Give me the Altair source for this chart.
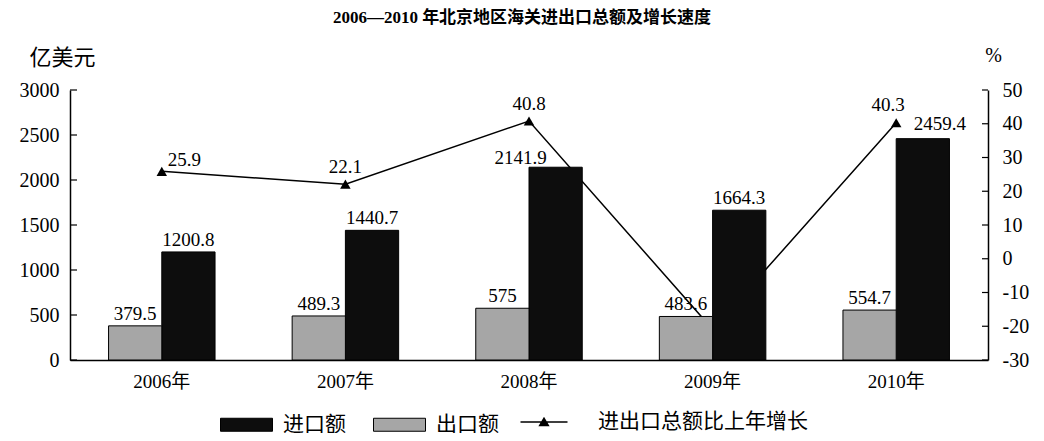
import altair as alt
import pandas as pd

# ---- data ----
years = ["2006年", "2007年", "2008年", "2009年", "2010年"]
import_vals = [1200.8, 1440.7, 2141.9, 1664.3, 2459.4]
export_vals = [379.5, 489.3, 575, 483.6, 554.7]
growth_vals = [25.9, 22.1, 40.8, -20.9, 40.3]
left_ticks = [0, 500, 1000, 1500, 2000, 2500, 3000]
right_ticks = [-30, -20, -10, 0, 10, 20, 30, 40, 50]
series_import = "进口额"
series_export = "出口额"
series_growth = "进出口总额比上年增长"
title_text = "2006—2010 年北京地区海关进出口总额及增长速度"

bar_df = pd.DataFrame({
    "year": years * 2,
    "type": [series_import] * len(years) + [series_export] * len(years),
    "value": import_vals + export_vals,
})
bar_df["label"] = bar_df["value"].map(lambda v: f"{v:g}")

growth_df = pd.DataFrame({
    "year": years,
    "growth": growth_vals,
    "series": [series_growth] * len(years),
})
growth_df["label"] = growth_df["growth"].map(lambda v: f"{v:g}")

SERIF = "Liberation Serif, Noto Sans CJK SC"
CJK = "Noto Sans CJK SC"

x_enc = alt.X(
    "year:N", sort=years,
    scale=alt.Scale(paddingInner=0.42, paddingOuter=0.21),
    axis=alt.Axis(title=None, ticks=False, tickSize=0, labelAngle=0,
                  labelFont=SERIF, labelFontSize=19, labelPadding=12,
                  labelColor="black", domainColor="black", domainWidth=1.5),
)
xoff_enc = alt.XOffset("type:N", sort=[series_export, series_import],
                       scale=alt.Scale(paddingInner=0, paddingOuter=0))

# ---- left: bars ----
left_y = alt.Y(
    "value:Q",
    scale=alt.Scale(domain=[0, 3000], nice=False, zero=True),
    axis=alt.Axis(orient="left", values=left_ticks, ticks=False, tickSize=0,
                  grid=False, labelFont=SERIF, labelFontSize=20, labelPadding=11,
                  labelExpr="datum.value + ''",
                  labelColor="black", domainColor="black", domainWidth=1.5,
                  title="亿美元", titleAngle=0, titleX=-8, titleY=-33,
                  titleAlign="center", titleBaseline="middle", titleFont=CJK,
                  titleFontSize=22, titleFontWeight="normal", titleColor="black"),
)

bars = alt.Chart(bar_df).mark_bar(stroke="black", strokeWidth=1).encode(
    x=x_enc,
    xOffset=xoff_enc,
    y=left_y,
    color=alt.Color(
        "type:N",
        scale=alt.Scale(domain=[series_import, series_export], range=["#0d0d0d", "#a6a6a6"]),
        legend=alt.Legend(title=None, orient="none", legendX=150, legendY=308,
                          direction="horizontal",
                          symbolType="M-1,-0.25H1V0.25H-1Z", symbolSize=2704,
                          symbolStrokeColor="black", symbolStrokeWidth=1,
                          labelFont=CJK, labelFontSize=21, labelOffset=10,
                          labelLimit=400,
                          labelColor="black", columnPadding=25, padding=0),
    ),
)

bar_text_base = alt.Chart(bar_df).encode(
    x=x_enc, xOffset=xoff_enc, y=left_y, text="label:N",
)
txt_style = dict(baseline="alphabetic", font=SERIF, fontSize=19, color="black")
exp_text = bar_text_base.transform_filter(
    alt.FieldEqualPredicate(field="type", equal=series_export)
).mark_text(dy=-6, **txt_style)
imp_text = bar_text_base.transform_filter(
    alt.FieldEqualPredicate(field="type", equal=series_import)
).transform_filter(
    alt.FieldOneOfPredicate(field="year", oneOf=["2006年", "2007年", "2009年"])
).mark_text(dy=-6, **txt_style)
imp_text08 = bar_text_base.transform_filter(
    alt.FieldEqualPredicate(field="type", equal=series_import)
).transform_filter(
    alt.FieldEqualPredicate(field="year", equal="2008年")
).mark_text(dx=-35, dy=-3, **txt_style)
imp_text10 = bar_text_base.transform_filter(
    alt.FieldEqualPredicate(field="type", equal=series_import)
).transform_filter(
    alt.FieldEqualPredicate(field="year", equal="2010年")
).mark_text(dx=17, dy=-9, **txt_style)

left_tick_rules = alt.Chart(pd.DataFrame({"value": left_ticks})).mark_rule(
    color="black", strokeWidth=1.2
).encode(y=left_y, x=alt.value(0), x2=alt.value(7))

left = alt.layer(bars, exp_text, imp_text, imp_text08, imp_text10, left_tick_rules)

# ---- right: growth line ----
right_y = alt.Y(
    "growth:Q",
    scale=alt.Scale(domain=[-30, 50], nice=False, zero=False),
    axis=alt.Axis(orient="right", values=right_ticks, ticks=False, tickSize=0,
                  grid=False, labelFont=SERIF, labelFontSize=20, labelPadding=14,
                  labelExpr="datum.value + ''",
                  labelColor="black", domainColor="black", domainWidth=1.5,
                  title="%", titleAngle=0, titleX=5, titleY=-35,
                  titleAlign="center", titleBaseline="middle", titleFont=SERIF,
                  titleFontSize=20, titleFontWeight="normal", titleColor="black"),
)

line = alt.Chart(growth_df).mark_line(color="black", strokeWidth=1.5).encode(
    x=x_enc, y=right_y
)
pts = alt.Chart(growth_df).mark_point(
    shape="triangle-up", filled=True, color="black", size=110
).encode(
    x=x_enc,
    y=right_y,
    opacity=alt.Opacity(
        "series:N",
        scale=alt.Scale(domain=[series_growth], range=[1]),
        legend=alt.Legend(title=None, orient="none", legendX=450, legendY=308,
                          symbolType="M-1,-0.035H1V0.035H-1ZM0,-0.22L0.24,0.18H-0.24Z",
                          symbolSize=2209,
                          symbolFillColor="black", symbolStrokeColor="black",
                          symbolStrokeWidth=0.5, labelFont=CJK, labelFontSize=21,
                          labelOffset=30, labelLimit=400, labelColor="black", padding=0),
    ),
)

g_base = alt.Chart(growth_df).encode(x=x_enc, y=right_y, text="label:N")
g06 = g_base.transform_filter(
    alt.FieldEqualPredicate(field="year", equal="2006年")
).mark_text(align="left", dx=6, dy=-5, **txt_style)
g0708 = g_base.transform_filter(
    alt.FieldOneOfPredicate(field="year", oneOf=["2007年", "2008年"])
).mark_text(dy=-11, **txt_style)
g10 = g_base.transform_filter(
    alt.FieldEqualPredicate(field="year", equal="2010年")
).mark_text(dx=-8, dy=-12, **txt_style)

right_tick_rules = alt.Chart(pd.DataFrame({"growth": right_ticks})).mark_rule(
    color="black", strokeWidth=1.2
).encode(y=right_y, x=alt.value(912), x2=alt.value(918))

right = alt.layer(line, pts, g06, g0708, g10, right_tick_rules)

chart = alt.layer(right, left).resolve_scale(y="independent").properties(
    width=918,
    height=270,
    title=alt.TitleParams(title_text, font=SERIF, fontSize=17, fontWeight="bold",
                          anchor="middle", frame="group", offset=18, dx=-7,
                          color="black"),
    autosize=alt.AutoSizeParams(type="none"),
    padding={"left": 62, "top": 82, "right": 48, "bottom": 73},
).configure_view(stroke=None)

chart.save("out.html", embed_options={"renderer": "svg", "actions": False})
